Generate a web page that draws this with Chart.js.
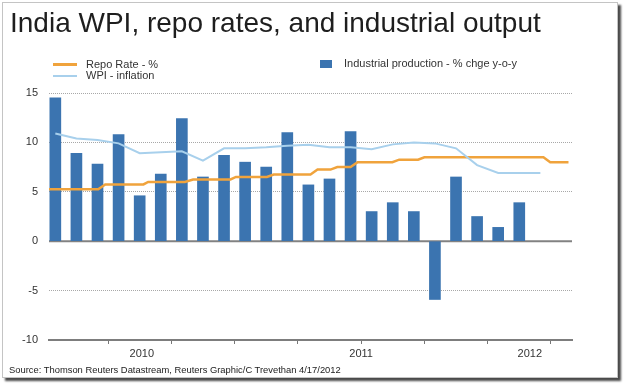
<!DOCTYPE html>
<html>
<head>
<meta charset="utf-8">
<script src="https://cdn.jsdelivr.net/npm/chart.js@4.4.1/dist/chart.umd.min.js"></script>
<style>
  html, body { margin: 0; padding: 0; background: #fff; }
  body { width: 624px; height: 384px; position: relative; overflow: hidden; font-family: "Liberation Sans", Arial, sans-serif; }
  .frame { position: absolute; left: 2px; top: 2px; width: 614px; height: 374px; border: 1px solid #c4c4c4; box-shadow: 3px 3px 2px #4a4a4a; background: #fff; }
  #chart { position: absolute; left: 0; top: 0; }
  .title { position: absolute; left: 10px; top: 9px; font-size: 28px; line-height: 28px; color: #1e1e1e; white-space: nowrap; }
  .legend { position: absolute; font-size: 11px; line-height: 11px; color: #333; }
  .legend .item { display: flex; align-items: center; height: 11px; white-space: nowrap; }
  .legend .swatch { display: inline-block; }
  .source { position: absolute; left: 9px; top: 365px; font-size: 9.4px; line-height: 9px; color: #222; white-space: nowrap; }
</style>
</head>
<body>
<div class="frame"></div>
<canvas id="chart" width="624" height="384"></canvas>
<div class="title">India WPI, repo rates, and industrial output</div>
<div class="legend" id="legend-lines" style="left:53px; top:59px;"></div>
<div class="legend" id="legend-bars" style="left:320px; top:58px;"></div>
<div class="source">Source: Thomson Reuters Datastream, Reuters Graphic/C Trevethan 4/17/2012</div>
<script>
// monthly series, Apr 2010 - Mar 2012
const months = ['2010-04', '2010-05', '2010-06', '2010-07', '2010-08', '2010-09', '2010-10', '2010-11', '2010-12',
                '2011-01', '2011-02', '2011-03', '2011-04', '2011-05', '2011-06', '2011-07', '2011-08', '2011-09',
                '2011-10', '2011-11', '2011-12', '2012-01', '2012-02', '2012-03'];
const industrialProduction = [14.5, 8.9, 7.8, 10.8, 4.6, 6.8, 12.4, 6.5, 8.7, 8.0, 7.5, 11.0,
                              5.7, 6.3, 11.1, 3.0, 3.9, 3.0, -5.9, 6.5, 2.5, 1.4, 3.9];
const wpiInflation = [10.9, 10.4, 10.25, 9.9, 8.9, 9.0, 9.1, 8.15, 9.4, 9.4, 9.5, 9.65,
                      9.75, 9.5, 9.5, 9.3, 9.8, 10.0, 9.9, 9.4, 7.7, 6.9, 6.9, 6.9];

// repo rate changes (step line)
const repoDates = ['2010-04-07', '2010-06-17', '2010-06-27', '2010-08-22', '2010-08-29', '2010-10-21',
                   '2010-11-02', '2010-12-26', '2011-01-03', '2011-02-16', '2011-02-25', '2011-04-19',
                   '2011-04-29', '2011-05-18', '2011-05-28', '2011-06-16', '2011-06-26', '2011-08-16',
                   '2011-08-26', '2011-09-22', '2011-10-01', '2012-03-21', '2012-03-31', '2012-04-26'];
const repoRate = [5.25, 5.25, 5.75, 5.75, 6.0, 6.0, 6.25, 6.25, 6.5, 6.5, 6.75, 6.75,
                  7.25, 7.25, 7.5, 7.5, 8.0, 8.0, 8.25, 8.25, 8.5, 8.5, 8.0, 8.0];

const yearLabels = ['2010', '2011', '2012'];
const yTicks = [-10, -5, 0, 5, 10, 15];

// months since Jan 2010; 'YYYY-MM' means the middle of the month
function monthPos(s) {
    const [y, m, d] = s.split('-').map(Number);
    const days = new Date(y, m, 0).getDate();
    return (y - 2010) * 12 + (m - 1) + (d ? (d - 1) / days : 0.5);
}

const xMin = monthPos('2010-04-07');
const xMax = monthPos('2012-05-01');

const quarterTicks = [];
for (let q = Math.ceil(xMin / 3) * 3; q < xMax; q += 3) quarterTicks.push(q);

// year label sits in the middle of the visible part of each year
const yearTicks = yearLabels.map(label => {
    const start = Math.max((+label - 2010) * 12, xMin);
    const end = Math.min((+label - 2009) * 12, xMax);
    return { value: (start + end) / 2, label: label };
});

const zeroLine = {
    id: 'zeroLine',
    beforeDatasetsDraw(chart) {
        const { ctx, chartArea, scales } = chart;
        const py = scales.y.getPixelForValue(0);
        ctx.save();
        ctx.strokeStyle = '#828282';
        ctx.lineWidth = 2;
        ctx.beginPath();
        ctx.moveTo(chartArea.left, py);
        ctx.lineTo(chartArea.right, py);
        ctx.stroke();
        ctx.restore();
    }
};

const chart = new Chart(document.getElementById('chart').getContext('2d'), {
    type: 'bar',
    data: {
        datasets: [{
            type: 'line',
            label: 'Repo Rate - %',
            data: repoDates.map((d, i) => ({ x: monthPos(d), y: repoRate[i] })),
            borderColor: '#f0a33c',
            borderWidth: 2.5,
            pointRadius: 0,
            tension: 0,
            order: 2
        }, {
            type: 'line',
            label: 'WPI - inflation',
            data: wpiInflation.map((v, i) => ({ x: monthPos(months[i]), y: v })),
            borderColor: '#a8d0ec',
            borderWidth: 2,
            pointRadius: 0,
            tension: 0,
            order: 1
        }, {
            type: 'bar',
            label: 'Industrial production - % chge y-o-y',
            data: industrialProduction.map((v, i) => ({ x: monthPos(months[i]), y: v })),
            backgroundColor: '#3b74b0',
            barThickness: 11,
            grouped: false,
            order: 3
        }]
    },
    options: {
        responsive: false,
        animation: false,
        devicePixelRatio: 1,
        layout: { padding: { top: 93, left: 0, right: 52, bottom: 22 } },
        plugins: {
            legend: { display: false },
            tooltip: { enabled: false }
        },
        scales: {
            x: {
                type: 'linear',
                min: xMin,
                max: xMax,
                offset: false,
                afterFit: scale => { scale.height = 22; },
                afterBuildTicks: scale => {
                    const vals = quarterTicks.concat(yearTicks.map(t => t.value));
                    const uniq = [...new Set(vals)].sort((a, b) => a - b);
                    scale.ticks = uniq.map(v => ({ value: v }));
                },
                grid: {
                    offset: false,
                    drawOnChartArea: false,
                    tickLength: 4,
                    tickWidth: 1,
                    tickColor: ctx => (ctx.tick && quarterTicks.includes(ctx.tick.value)) ? '#777' : 'rgba(0,0,0,0)'
                },
                border: { color: '#7d7d7d', width: 2 },
                ticks: {
                    autoSkip: false,
                    maxRotation: 0,
                    padding: 3,
                    color: '#333',
                    font: { family: '"Liberation Sans", Arial, sans-serif', size: 11 },
                    callback: value => {
                        const t = yearTicks.find(y => Math.abs(y.value - value) < 1e-6);
                        return t ? t.label : '';
                    }
                }
            },
            y: {
                min: -10,
                max: 15,
                afterFit: scale => { scale.width = 49; },
                afterBuildTicks: scale => { scale.ticks = yTicks.map(v => ({ value: v })); },
                grid: {
                    drawTicks: false,
                    lineWidth: 1,
                    color: ctx => (ctx.tick && (ctx.tick.value === 0 || ctx.tick.value === -10)) ? 'rgba(0,0,0,0)' : '#a8a8a8'
                },
                border: { display: false, dash: [1, 1] },
                ticks: {
                    padding: 11,
                    color: '#333',
                    font: { family: '"Liberation Sans", Arial, sans-serif', size: 11 }
                }
            }
        }
    },
    plugins: [zeroLine]
});

// html legend built from the chart's datasets
chart.data.datasets.forEach(ds => {
    const item = document.createElement('div');
    item.className = 'item';
    const sw = document.createElement('span');
    sw.className = 'swatch';
    const text = document.createElement('span');
    text.textContent = ds.label;
    if (ds.type === 'line') {
        sw.style.width = '24px';
        sw.style.height = ds.borderWidth + 'px';
        sw.style.background = ds.borderColor;
        sw.style.marginRight = '9px';
        item.appendChild(sw);
        item.appendChild(text);
        document.getElementById('legend-lines').appendChild(item);
    } else {
        sw.style.width = '12px';
        sw.style.height = '8px';
        sw.style.background = ds.backgroundColor;
        sw.style.marginRight = '12px';
        item.appendChild(sw);
        item.appendChild(text);
        document.getElementById('legend-bars').appendChild(item);
    }
});
</script>
</body>
</html>
